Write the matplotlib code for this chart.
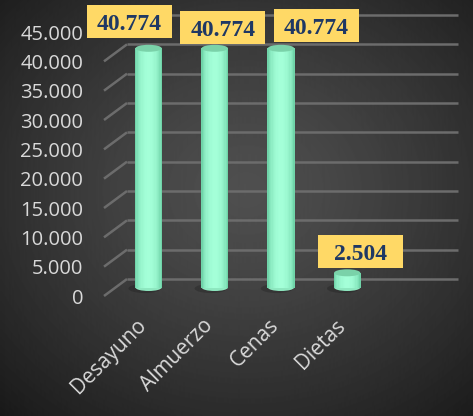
import numpy as np
import matplotlib
matplotlib.use("Agg")
import matplotlib.pyplot as plt
from matplotlib.patches import Ellipse, Rectangle
from matplotlib.transforms import offset_copy

categories = ["Desayuno", "Almuerzo", "Cenas", "Dietas"]
values = [40774, 40774, 40774, 2504]
value_labels = ["40.774", "40.774", "40.774", "2.504"]
y_ticks = [0, 5000, 10000, 15000, 20000, 25000, 30000, 35000, 40000, 45000]
y_tick_labels = ["0", "5.000", "10.000", "15.000", "20.000", "25.000",
                 "30.000", "35.000", "40.000", "45.000"]

# label box offsets (pixels) from the top of each bar, to mimic Excel's 3D placement
label_dx = [-19, 8, 35, 13]
label_dy = [27, 21, 23, 21]

plt.rcParams["font.family"] = ["Open Sans", "DejaVu Sans"]

W, H = 473, 416
fig = plt.figure(figsize=(W / 100, H / 100), dpi=100)

# radial grey background
bg = fig.add_axes([0, 0, 1, 1], zorder=-10)
yy, xx = np.mgrid[0:H, 0:W]
r = np.sqrt(((xx - 245) / 290.0) ** 2 + ((yy - 190) / 250.0) ** 2)
shade = 0.31 - 0.16 * np.clip(r, 0, 1.3) ** 1.3
bg.imshow(shade, cmap="gray", vmin=0, vmax=1, extent=(0, W, H, 0), aspect="auto")
bg.axis("off")

# front plane of the 3D plot
left, bottom, width, height = 104, 120, 331, 264
ax = fig.add_axes([left / W, bottom / H, width / W, height / H])
ax.set_facecolor("none")
xmin, xmax, ymax = -0.5, 4.5, 45000
ax.set_xlim(xmin, xmax)
ax.set_ylim(0, ymax)
ax.set_autoscale_on(False)
for s in ax.spines.values():
    s.set_visible(False)

sx = width / (xmax - xmin)  # px per x unit
sy = height / ymax          # px per y unit

depth = (23, 17)
back = offset_copy(ax.transData, fig, x=depth[0], y=depth[1], units="dots")
mid = offset_copy(ax.transData, fig, x=depth[0] / 2, y=depth[1] / 2, units="dots")

grid_col = "#6c6c6c"
for v in y_ticks:
    ax.plot([xmin, xmax], [v, v], transform=back, color=grid_col, lw=1.8,
            solid_capstyle="butt", zorder=1, clip_on=False)
    ax.plot([xmin, xmin + depth[0] / sx], [v, v + depth[1] / sy], color=grid_col,
            lw=1.8, solid_capstyle="butt", zorder=1, clip_on=False)

# cylinders
x = np.arange(len(categories))
bw = 27 / sx
cap_h = 7 / sy
edge = np.array([0x5c, 0xc4, 0x98]) / 255
center = np.array([0xa4, 0xff, 0xd8]) / 255
n = 21
for k in range(n):
    t = (k + 0.5) / n
    f = np.sin(np.pi * t) ** 0.5
    c = edge + (center - edge) * f
    ax.bar(x - bw / 2 + t * bw, values, width=bw / n * 1.1, color=c, lw=0,
           transform=mid, zorder=4, clip_on=False)

for i, v in enumerate(values):
    ax.add_patch(Ellipse((i - 4 / sx, -1 / sy), bw * 1.2, cap_h * 1.3, color="black",
                         alpha=0.18, lw=0, transform=mid, zorder=2))
    ax.add_patch(Ellipse((i, 0), bw * 0.97, cap_h, color="#8ee8c0", lw=0,
                         transform=mid, zorder=3))
    ax.add_patch(Ellipse((i, v), bw * 0.97, cap_h, color="#7ad2a9", lw=0,
                         transform=mid, zorder=5, clip_on=False))
    bx = i + label_dx[i] / sx
    by = v + label_dy[i] / sy
    ax.add_patch(Rectangle((bx - 42.5 / sx, by - 16.5 / sy), 85 / sx, 33 / sy,
                           facecolor="#ffd966", lw=0, transform=mid, zorder=6,
                           clip_on=False))
    ax.text(bx, by - 8.5 / sy, value_labels[i], transform=mid, ha="center",
            va="baseline", family="Liberation Serif", weight="bold", size=17,
            color="#1f3864", zorder=7, clip_on=False)

# axis labels
ax.set_xticks([])
ax.set_yticks(y_ticks, y_tick_labels)
ax.tick_params(axis="y", length=0, pad=15, labelcolor="#d9d9d9", labelsize=14.5)
for i, name in enumerate(categories):
    ax.text(i - 1 / sx, -19 / sy, name, rotation=45, rotation_mode="anchor",
            ha="right", va="top", color="#d9d9d9", size=15, clip_on=False)

fig.savefig("out.png", dpi=100)
